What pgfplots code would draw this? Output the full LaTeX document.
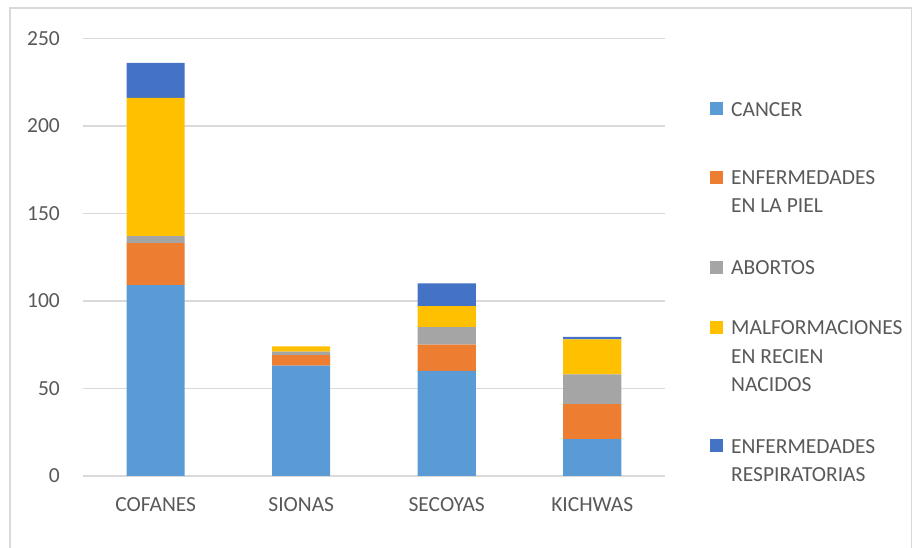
\documentclass[border=0pt]{standalone}
\usepackage{fontspec}
\setmainfont{Carlito}
\usepackage{pgfplots}
\pgfplotsset{compat=1.18}
\definecolor{cCancer}{HTML}{5B9BD5}
\definecolor{cPiel}{HTML}{ED7D31}
\definecolor{cAbortos}{HTML}{A5A5A5}
\definecolor{cMalf}{HTML}{FFC000}
\definecolor{cResp}{HTML}{4472C4}
\definecolor{gridc}{HTML}{D9D9D9}
\definecolor{labc}{HTML}{595959}
\newcommand{\legtxt}[2]{\begin{tabular}[t]{@{}l@{}}\rule{0pt}{#1}#2\end{tabular}}
\begin{document}
\fontsize{21.5}{28.5}\selectfont
\begin{tikzpicture}[x=1pt,y=1pt]
\useasboundingbox (-83,-72) rectangle (830,476);
\draw[color=gridc, line width=1.5pt] (-73,-90) -- (-73,468) -- (828.5,468) -- (828.5,-90);
\begin{axis}[
  at={(0,0)}, anchor=south west,
  scale only axis, width=582pt, height=437.5pt,
  ymin=0, ymax=250, xmin=-0.5, xmax=3.5,
  enlargelimits=false,
  ybar stacked, bar width=58pt,
  axis line style={draw=none},
  ymajorgrids, grid style={color=gridc, line width=1.2pt},
  major tick length=0pt,
  ytick={0,50,100,150,200,250},
  xtick={0,1,2,3},
  xticklabels={COFANES,SIONAS,SECOYAS,KICHWAS},
  /pgf/number format/assume math mode=true,
  tick label style={color=labc, font=\fontsize{21.5}{25}\selectfont, inner sep=0pt},
  yticklabel style={anchor=east, xshift=-23pt},
  xticklabel style={anchor=north, yshift=-21pt},
  legend image code/.code={\path[#1, draw=none] (0pt,0.7pt) rectangle (13pt,13.7pt);},
  legend style={draw=none, fill=none, at={(axis description cs:1.0773,0.8686)}, anchor=north west,
    inner sep=0pt, row sep=0pt, column sep=8pt, text=labc,
    font=\fontsize{21.5}{28.5}\selectfont,
    cells={anchor=base west},
    nodes={inner sep=0pt}},
]
\addplot[fill=cCancer, draw=none] coordinates {(0,109) (1,63) (2,60) (3,21)};
\addlegendentry{\legtxt{0pt}{CANCER}}
\addplot[fill=cPiel, draw=none] coordinates {(0,24) (1,6) (2,15) (3,20)};
\addlegendentry{\legtxt{65pt}{ENFERMEDADES\\EN LA PIEL}}
\addplot[fill=cAbortos, draw=none] coordinates {(0,4) (1,2) (2,10) (3,17)};
\addlegendentry{\legtxt{87pt}{ABORTOS}}
\addplot[fill=cMalf, draw=none] coordinates {(0,79) (1,3) (2,12) (3,20)};
\addlegendentry{\legtxt{57pt}{MALFORMACIONES\\EN RECIEN\\NACIDOS}}
\addplot[fill=cResp, draw=none] coordinates {(0,20) (1,0) (2,13) (3,1.5)};
\addlegendentry{\legtxt{115pt}{ENFERMEDADES\\RESPIRATORIAS}}
\end{axis}
\end{tikzpicture}
\end{document}
